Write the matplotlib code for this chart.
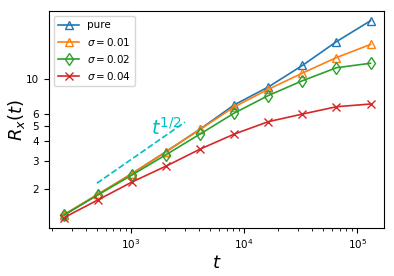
import numpy as np
import matplotlib
matplotlib.use("Agg")
import matplotlib.pyplot as plt
from matplotlib.ticker import FixedLocator, NullLocator, ScalarFormatter

t = [256, 512, 1024, 2048, 4096, 8192, 16384, 32768, 65536, 131072]
pure = [1.36, 1.84, 2.5, 3.45, 4.8, 6.85, 8.9, 12.2, 17.3, 23.5]
s001 = [1.37, 1.85, 2.5, 3.45, 4.78, 6.65, 8.6, 10.9, 13.7, 16.6]
s002 = [1.36, 1.83, 2.45, 3.3, 4.47, 6.07, 7.85, 9.75, 11.8, 12.6]
s004 = [1.31, 1.70, 2.21, 2.79, 3.58, 4.46, 5.35, 5.98, 6.66, 6.93]
labels = ["pure", r"$\sigma=0.01$", r"$\sigma=0.02$", r"$\sigma=0.04$"]
guide_t = [500, 3000]
guide_c = 0.097
yticks = [2, 3, 4, 5, 6, 10]

fig = plt.figure(figsize=(3.94, 2.76), dpi=100)
ax = fig.add_axes([0.124, 0.174, 0.851, 0.786])

series = [pure, s001, s002, s004]
markers = ["^", "^", "d", "x"]
colors = ["C0", "C1", "C2", "C3"]
for y, m, c, lab in zip(series, markers, colors, labels):
    ax.plot(t, y, marker=m, color=c, label=lab, fillstyle="none",
            markersize=6, markeredgewidth=1.0, linewidth=1.2)

gt = np.array(guide_t, dtype=float)
ax.plot(gt, guide_c * np.sqrt(gt), "--", color="c", linewidth=1.2)
ax.text(1500, 4.4, r"$t^{1/2}$", color="c", fontsize=14)

ax.set_xscale("log")
ax.set_yscale("log")
ax.set_xlim(188, 1.73e5)
ax.set_ylim(1.125, 27.1)
ax.yaxis.set_major_locator(FixedLocator(yticks))
ax.yaxis.set_major_formatter(ScalarFormatter())
ax.yaxis.set_minor_locator(NullLocator())
ax.tick_params(labelsize=7.5)
ax.set_xlabel(r"$t$", fontsize=13, labelpad=2)
ax.set_ylabel(r"$R_x(t)$", fontsize=13, labelpad=-1)
ax.legend(loc="upper left", fontsize=7.5)

fig.savefig("out.png", dpi=100)
